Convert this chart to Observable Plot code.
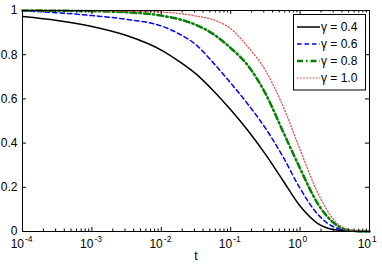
<!DOCTYPE html>
<html><head><meta charset="utf-8">
<script src="https://cdn.jsdelivr.net/npm/d3@7"></script>
<script src="https://cdn.jsdelivr.net/npm/@observablehq/plot@0.6"></script>
<style>html,body{margin:0;padding:0;background:#fff} svg{display:block}</style>
</head><body><div id="chart"></div>
<script>
// t values (log-spaced sample points)
const tValues = [0.0001, 0.000316, 0.001, 0.00316, 0.01, 0.0178, 0.0316, 0.0562, 0.1, 0.178, 0.316, 0.562, 1, 1.78, 3.16, 5.62, 10];
const gamma04 = [0.973, 0.955, 0.928, 0.887, 0.821, 0.771, 0.713, 0.637, 0.551, 0.456, 0.350, 0.232, 0.115, 0.037, 0.008, 0.001, 0];
const gamma06 = [0.998, 0.990, 0.977, 0.960, 0.930, 0.895, 0.845, 0.763, 0.672, 0.575, 0.468, 0.340, 0.195, 0.079, 0.019, 0.002, 0];
const gamma08 = [1.0, 0.999, 0.997, 0.992, 0.977, 0.961, 0.935, 0.893, 0.830, 0.750, 0.625, 0.455, 0.285, 0.128, 0.035, 0.004, 0];
const gamma10 = [1.0, 1.0, 0.999, 0.997, 0.993, 0.987, 0.975, 0.958, 0.918, 0.834, 0.730, 0.570, 0.370, 0.178, 0.048, 0.005, 0];

const seriesNames = ["γ = 0.4", "γ = 0.6", "γ = 0.8", "γ = 1.0"];
const seriesValues = [gamma04, gamma06, gamma08, gamma10];
const seriesColors = ["#000000", "#0000ff", "#008000", "#e25050"];
const seriesDash = [null, "4.5,3", "6,3,1.5,3", "1.2,2"];
const seriesWidth = [1.5, 1.5, 2.5, 1.3];

const xMajorTicks = [1e-4, 1e-3, 1e-2, 1e-1, 1, 10];
const xTickExponents = ["-4", "-3", "-2", "-1", "0", "1"];
const xMinorTicks = xMajorTicks.slice(0, -1).flatMap(d => [2, 3, 4, 5, 6, 7, 8, 9].map(k => k * d));
const yTicks = [0, 0.2, 0.4, 0.6, 0.8, 1];
const yTickLabels = ["0", "0.2", "0.4", "0.6", "0.8", "1"];
const xLabel = "t";

const W = 382, H = 267;
const mL = 22, mR = 13, mT = 10, mB = 36;
const fw = W - mL - mR, fh = H - mT - mB;

const rows = seriesNames.flatMap((name, i) => tValues.map((t, j) => ({series: name, t, v: seriesValues[i][j]})));

const lineMarks = seriesNames.map((name, i) => Plot.line(rows.filter(r => r.series === name), {
  x: "t", y: "v", stroke: seriesColors[i], strokeWidth: seriesWidth[i],
  strokeDasharray: seriesDash[i] ?? undefined, curve: "monotone-x"
}));

const plot = Plot.plot({
  width: W, height: H,
  marginLeft: mL, marginRight: mR, marginTop: mT, marginBottom: mB,
  style: {fontFamily: "'Liberation Sans', Arial, sans-serif", fontSize: "12px", background: "#fff", color: "#000"},
  x: {type: "log", domain: [1e-4, 10], axis: null},
  y: {domain: [0, 1], axis: null},
  marks: [
    ...lineMarks,
    Plot.frame({stroke: "#000", strokeWidth: 1}),
    // bottom ticks (inward)
    Plot.tickX(xMajorTicks, {x: d => d, stroke: "#000", insetTop: fh - 4}),
    Plot.tickX(xMinorTicks, {x: d => d, stroke: "#000", insetTop: fh - 2.5}),
    // top ticks (inward)
    Plot.tickX(xMajorTicks, {x: d => d, stroke: "#000", insetBottom: fh - 4}),
    Plot.tickX(xMinorTicks, {x: d => d, stroke: "#000", insetBottom: fh - 2.5}),
    // left / right y ticks (inward)
    Plot.tickY(yTicks, {y: d => d, stroke: "#000", insetRight: fw - 4}),
    Plot.tickY(yTicks, {y: d => d, stroke: "#000", insetLeft: fw - 4}),
    // y tick labels
    Plot.text(yTicks, {y: d => d, text: (d, i) => yTickLabels[i], frameAnchor: "left", textAnchor: "end", dx: -5, fontSize: 12, fill: "#000"}),
    // x tick labels: base "10" and superscript exponent
    Plot.text(xMajorTicks, {x: d => d, text: () => "10", frameAnchor: "bottom", textAnchor: "end", dx: 1.5, dy: 16.5, fontSize: 12, fill: "#000"}),
    Plot.text(xMajorTicks, {x: d => d, text: (d, i) => xTickExponents[i], frameAnchor: "bottom", textAnchor: "start", dx: 2.5, dy: 10.3, fontSize: 8.5, fill: "#000"}),
    // x axis label
    Plot.text([xLabel], {text: d => d, frameAnchor: "bottom", dy: 28, fontSize: 12.5, fill: "#000"})
  ]
});

document.getElementById("chart").appendChild(plot);

// Legend box (top-right, inside the plot)
const svg = d3.select(plot);
const lg = svg.append("g").attr("font-family", "'Liberation Sans', Arial, sans-serif").attr("font-size", 12).attr("text-anchor", "start");
const bx = 293.5, by = 14.5, bw = 72, bh = 75.5;
lg.append("rect").attr("x", bx).attr("y", by).attr("width", bw).attr("height", bh)
  .attr("fill", "#fff").attr("stroke", "#000").attr("stroke-width", 1);
seriesNames.forEach((name, i) => {
  const yy = by + 12.5 + i * 17;
  const ln = lg.append("line").attr("x1", bx + 3.5).attr("x2", bx + 26.5).attr("y1", yy).attr("y2", yy)
    .attr("stroke", seriesColors[i]).attr("stroke-width", seriesWidth[i]);
  if (seriesDash[i]) ln.attr("stroke-dasharray", seriesDash[i]);
  lg.append("text").attr("x", bx + 27.5).attr("y", yy).attr("dy", "0.36em").attr("fill", "#000").text(name);
});
</script>
</body></html>
